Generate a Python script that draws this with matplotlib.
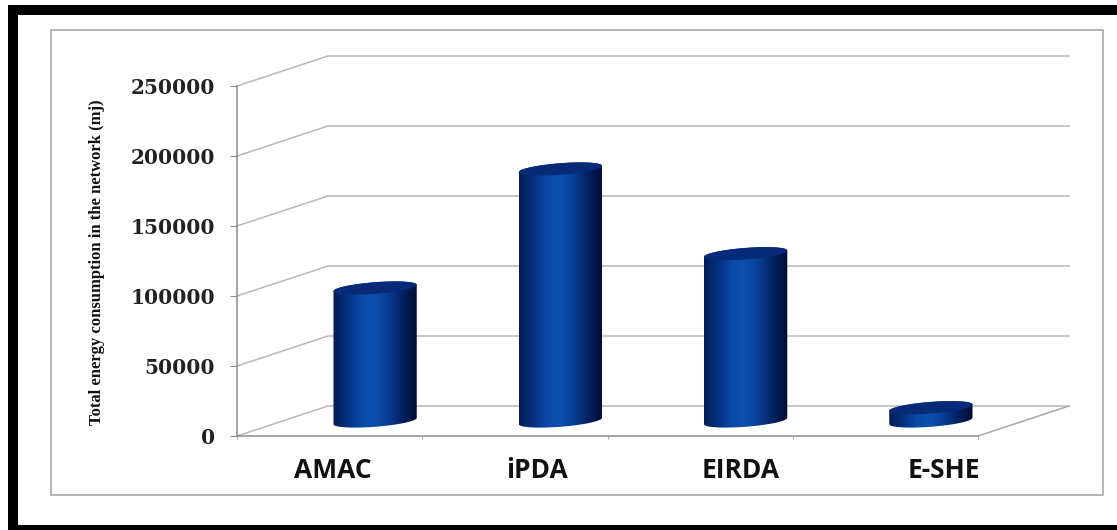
import numpy as np
import matplotlib
matplotlib.use("Agg")
import matplotlib.pyplot as plt
from matplotlib.colors import LinearSegmentedColormap
from matplotlib.patches import Polygon, Rectangle

# Values
categories = ["AMAC", "iPDA", "EIRDA", "E-SHE"]
energy = [95000, 180000, 119500, 9500]
y_ticks = [0, 50000, 100000, 150000, 200000, 250000]

W, H = 1117, 530
DEPTH_X, DEPTH_Y = 91, 30  # how far the back wall is shifted, in pixels
LEFT, RIGHT, BOTTOM, TOP = 237, 978, 436, 86

fig = plt.figure(figsize=(W / 100, H / 100), dpi=100, facecolor="white")

# Frame drawn in image pixels
bg = fig.add_axes([0, 0, 1, 1])
bg.set_xlim(0, W)
bg.set_ylim(H, 0)
bg.axis("off")
bg.add_patch(Rectangle((8, 5), W - 8, 10, color="black", lw=0))
bg.add_patch(Rectangle((8, 5), 10, H - 5, color="black", lw=0))
bg.add_patch(Rectangle((8, 525), W - 8, 5, color="black", lw=0))
bg.add_patch(Rectangle((51, 30), 1052, 465, fc="white", ec="#a8a8a8", lw=1.2))

ax = fig.add_axes([LEFT / W, 1 - BOTTOM / H, (RIGHT - LEFT) / W, (BOTTOM - TOP) / H])
ax.patch.set_alpha(0)

px_u = (RIGHT - LEFT) / len(categories)
px_v = (BOTTOM - TOP) / y_ticks[-1]


# Shift a point on the front plane back by depth d (0 front, 1 back wall)
def project(u, v, d):
    return u + d * DEPTH_X / px_u, v + d * DEPTH_Y / px_v


# Walls and floor
for t in y_ticks:
    xs, ys = zip(project(-0.5, t, 0), project(-0.5, t, 1), project(3.5, t, 1))
    ax.plot(xs, ys, color="#b8b8b8", lw=1.1, clip_on=False, zorder=1)
xs, ys = zip(project(3.5, 0, 0), project(3.5, 0, 1))
ax.plot(xs, ys, color="#a8a8a8", lw=1.1, clip_on=False, zorder=1)

# Cylinders
bar_cmap = LinearSegmentedColormap.from_list(
    "bar", ["#031c56", "#06307f", "#0a4aa6", "#0b4fae", "#083c90", "#04205f", "#020c33"])
shade = np.linspace(0, 1, 256).reshape(1, -1)

RU = 36.5 / px_u  # radius along the category direction
RD = 0.22  # radius along the depth direction
half = np.hypot(36.5, RD * DEPTH_X)
t0 = np.arctan2(RD * DEPTH_X, 36.5)
upper = np.linspace(t0, t0 + np.pi, 60)
lower = np.linspace(t0 + np.pi, t0 + 2 * np.pi, 60)
round_all = np.linspace(0, 2 * np.pi, 120)

for i, val in enumerate(energy):
    top = [project(i + RU * np.cos(a), val, 0.5 + RD * np.sin(a)) for a in upper]
    bot = [project(i + RU * np.cos(a), 0, 0.5 + RD * np.sin(a)) for a in lower]
    body = Polygon(top + bot, closed=True, transform=ax.transData, fc="none", ec="none")
    ax.add_patch(body)
    cx = project(i, 0, 0.5)[0]
    ext_x = half / px_u
    ymin = min(p[1] for p in bot)
    ymax = max(p[1] for p in top)
    im = ax.imshow(shade, cmap=bar_cmap, aspect="auto", zorder=3,
                   extent=[cx - ext_x, cx + ext_x, ymin, ymax], clip_on=True)
    im.set_clip_path(body)
    cap = [project(i + RU * np.cos(a), val, 0.5 + RD * np.sin(a)) for a in round_all]
    ax.add_patch(Polygon(cap, closed=True, fc="#062a78", ec="none", zorder=4, clip_on=False))

ax.set_xlim(-0.5, 3.5)
ax.set_ylim(0, y_ticks[-1])
for s in ["top", "right"]:
    ax.spines[s].set_visible(False)
for s in ["left", "bottom"]:
    ax.spines[s].set_color("#8c8c8c")
    ax.spines[s].set_linewidth(1.1)
    ax.spines[s].set_zorder(2)

ax.set_yticks(y_ticks)
ax.set_yticklabels([str(t) for t in y_ticks], family="DejaVu Serif", fontweight="bold",
                   fontsize=14.5, color="#222222")
ax.set_xticks([-0.5, 0.5, 1.5, 2.5, 3.5])
ax.set_xticklabels([])
ax.tick_params(axis="y", length=5, color="#8c8c8c", pad=11)
ax.tick_params(axis="x", length=2, color="#b0b0b0")

# Category labels sit on their own spacing, not under the ticks
for i, name in enumerate(categories):
    bg.text(333 + 203.7 * i, 470, name, ha="center", va="center", family="Open Sans",
            fontweight="bold", fontsize=19, color="#111111")

bg.text(97, 262, "Total energy consumption in the network (mj)", rotation=90,
        ha="center", va="center", family="Liberation Serif", fontweight="bold",
        fontsize=12, color="#111111")

fig.savefig("out.png", dpi=100)
